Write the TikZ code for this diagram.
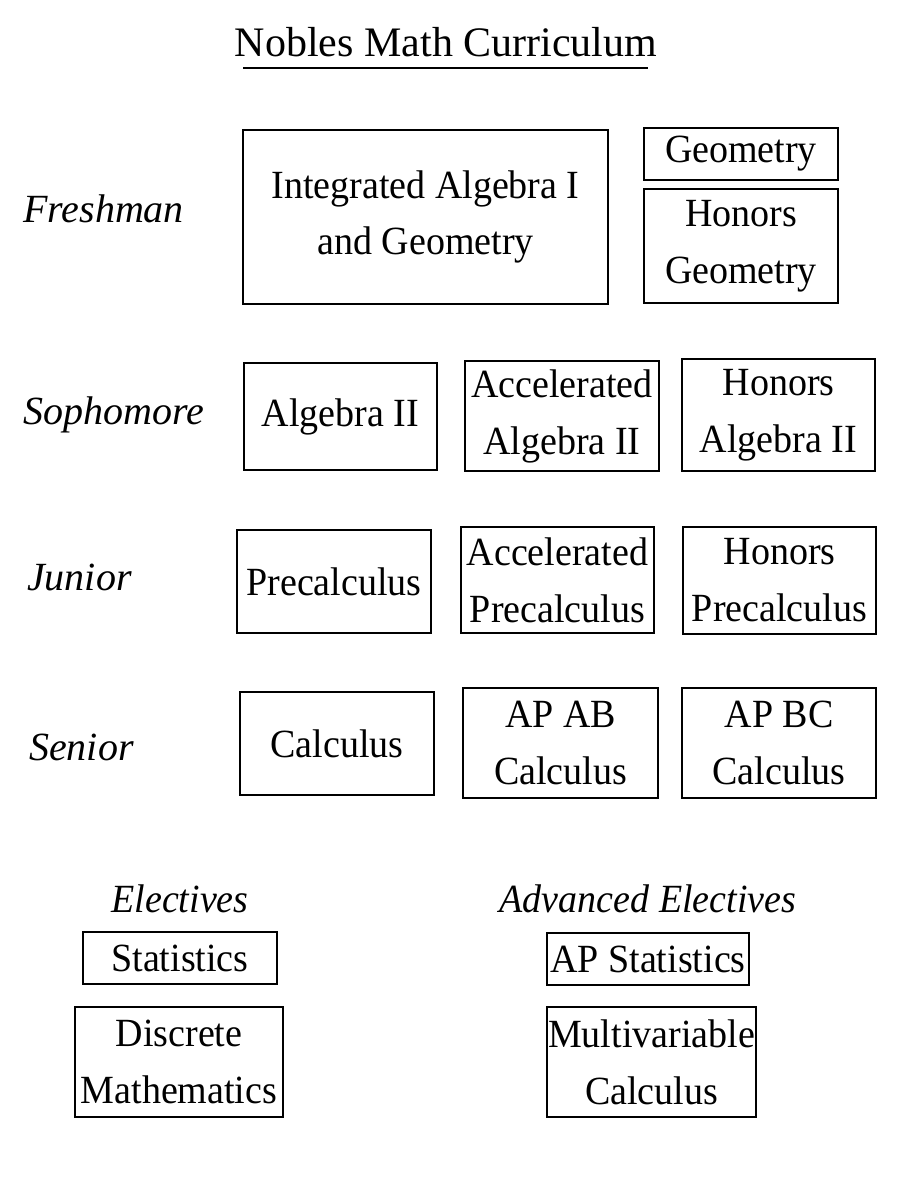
\documentclass[tikz,border=0pt]{standalone}
\usepackage{fontspec}
\setmainfont{Liberation Serif}[FakeStretch=0.95]
\newfontfamily\plainserif{Liberation Serif}
\begin{document}
\begin{tikzpicture}[x=1pt,y=-1pt,
  course/.style={draw, line width=2pt, inner sep=0pt, align=center,
    font=\fontsize{40}{57}\selectfont},
  yearlabel/.style={anchor=base west, inner sep=0pt,
    font=\plainserif\fontsize{40}{54}\selectfont\itshape},
  grouplabel/.style={anchor=base, inner sep=0pt,
    font=\fontsize{40}{54}\selectfont\itshape},
  titlefont/.style={anchor=base, inner sep=0pt,
    font=\plainserif\fontsize{42}{54}\selectfont}]
\newcommand\crs[7][]{\node[course, minimum width={#5-#3}, minimum height={#6-#4}, #1] (#2) at ({(#3+#5)/2},{(#4+#6)/2}) {#7};}
\useasboundingbox (0,0) rectangle (900,1200);
% title
\node[titlefont] (title) at (446,56) {Nobles Math Curriculum};
\coordinate (ulA) at (243,68);
\coordinate (ulB) at (648,68);
\draw[line width=2pt] (ulA) -- (ulB);
% year labels
\node[yearlabel] (fresh) at (23,222) {Freshman};
\node[yearlabel] (soph) at (23,424) {Sophomore};
\node[yearlabel] (jun) at (27,590) {Junior};
\node[yearlabel] (sen) at (29,760) {Senior};
% freshman
\crs[font=\fontsize{40}{56}\selectfont]{integ}{243}{130}{608}{304}{Integrated Algebra I\\and Geometry}
\crs{geo}{644}{128}{838}{180}{Geometry}
\crs{hgeo}{644}{189}{838}{303}{Honors\\Geometry}
% sophomore
\crs{alg}{244}{363}{437}{470}{Algebra II}
\crs{aalg}{465}{361}{659}{471}{Accelerated\\Algebra II}
\crs{halg}{682}{359}{875}{471}{Honors\\Algebra II}
% junior
\crs{pre}{237}{530}{431}{633}{Precalculus}
\crs{apre}{461}{527}{654}{633}{Accelerated\\Precalculus}
\crs{hpre}{683}{527}{876}{634}{Honors\\Precalculus}
% senior
\crs{calc}{240}{692}{434}{795}{Calculus}
\crs{ab}{463}{688}{658}{798}{AP AB\\Calculus}
\crs{bc}{682}{688}{876}{798}{AP BC\\Calculus}
% electives
\node[grouplabel] (elec) at (180,912) {Electives};
\node[grouplabel] (aelec) at (648,912) {Advanced Electives};
\crs{stat}{83}{932}{277}{984}{Statistics}
\crs{disc}{75}{1007}{283}{1117}{Discrete\\Mathematics}
\crs{apstat}{547}{933}{749}{985}{AP Statistics}
\crs{multi}{547}{1007}{756}{1117}{Multivariable\\Calculus}
\end{tikzpicture}
\end{document}
